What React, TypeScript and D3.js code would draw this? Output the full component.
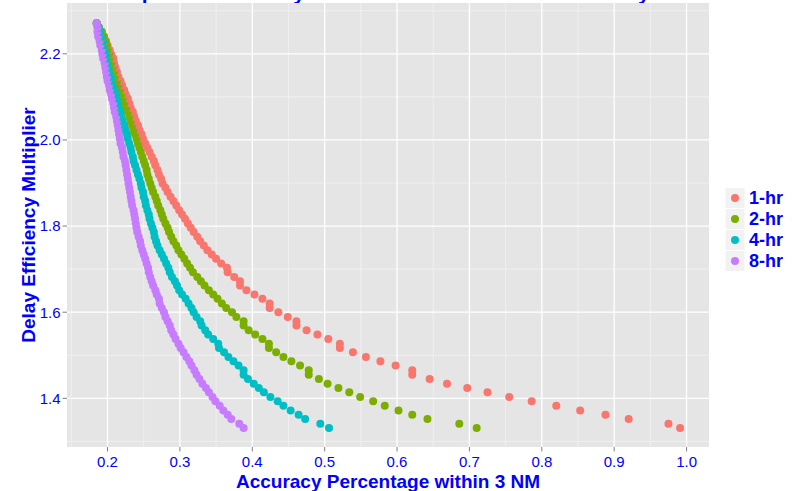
import React from 'react';
import * as d3 from 'd3';

// shared y levels (bottom to top)
const yLevels = [
  1.331, 1.341, 1.352, 1.362, 1.372, 1.383, 1.393, 1.403, 1.414, 1.424,
  1.434, 1.445, 1.455, 1.465, 1.476, 1.486, 1.496, 1.507, 1.517, 1.527,
  1.538, 1.548, 1.558, 1.569, 1.579, 1.589, 1.6, 1.61, 1.62, 1.631,
  1.641, 1.651, 1.662, 1.672, 1.682, 1.693, 1.703, 1.713, 1.724, 1.734,
  1.744, 1.755, 1.765, 1.775, 1.786, 1.796, 1.806, 1.817, 1.827, 1.837,
  1.848, 1.858, 1.868, 1.879, 1.889, 1.899, 1.91, 1.92, 1.93, 1.941,
  1.951, 1.961, 1.972, 1.982, 1.992, 2.003, 2.013, 2.023, 2.034, 2.044,
  2.054, 2.065, 2.075, 2.085, 2.096, 2.106, 2.116, 2.127, 2.137, 2.147,
  2.158, 2.168, 2.178, 2.189, 2.199, 2.209, 2.22, 2.23, 2.24, 2.251,
  2.261, 2.271,
];

// accuracy values for each horizon, same order as yLevels
const hr1 = [
  0.991, 0.975, 0.92, 0.888, 0.853, 0.82, 0.786, 0.755, 0.725, 0.697,
  0.669, 0.645, 0.621, 0.621, 0.598, 0.577, 0.557, 0.539, 0.521, 0.521,
  0.505, 0.49, 0.475, 0.461, 0.461, 0.449, 0.436, 0.424, 0.424, 0.414,
  0.403, 0.392, 0.383, 0.383, 0.375, 0.366, 0.365, 0.357, 0.35, 0.344,
  0.338, 0.333, 0.328, 0.324, 0.319, 0.315, 0.311, 0.307, 0.303, 0.299,
  0.295, 0.291, 0.287, 0.283, 0.28, 0.276, 0.274, 0.271, 0.269, 0.266,
  0.264, 0.261, 0.258, 0.255, 0.252, 0.249, 0.247, 0.244, 0.242, 0.239,
  0.237, 0.235, 0.232, 0.23, 0.228, 0.225, 0.223, 0.22, 0.218, 0.215,
  0.213, 0.211, 0.209, 0.208, 0.205, 0.203, 0.2, 0.198, 0.195, 0.192,
  0.188, 0.185,
];
const hr2 = [
  0.71, 0.686, 0.642, 0.621, 0.602, 0.583, 0.567, 0.549, 0.534, 0.519,
  0.504, 0.492, 0.478, 0.478, 0.466, 0.454, 0.443, 0.433, 0.423, 0.423,
  0.414, 0.404, 0.395, 0.388, 0.388, 0.378, 0.372, 0.364, 0.358, 0.352,
  0.346, 0.34, 0.334, 0.329, 0.324, 0.318, 0.314, 0.31, 0.306, 0.302,
  0.298, 0.295, 0.291, 0.288, 0.285, 0.283, 0.28, 0.277, 0.275, 0.273,
  0.27, 0.268, 0.266, 0.263, 0.261, 0.259, 0.257, 0.255, 0.254, 0.252,
  0.25, 0.248, 0.246, 0.244, 0.242, 0.24, 0.238, 0.236, 0.234, 0.232,
  0.23, 0.228, 0.226, 0.223, 0.221, 0.219, 0.217, 0.215, 0.213, 0.21,
  0.209, 0.207, 0.205, 0.203, 0.202, 0.2, 0.199, 0.197, 0.195, 0.192,
  0.188, 0.185,
];
const hr4 = [
  0.506, 0.494, 0.473, 0.464, 0.453, 0.443, 0.435, 0.425, 0.416, 0.409,
  0.402, 0.394, 0.388, 0.388, 0.381, 0.374, 0.367, 0.361, 0.354, 0.353,
  0.346, 0.339, 0.335, 0.33, 0.328, 0.323, 0.319, 0.316, 0.312, 0.308,
  0.303, 0.299, 0.296, 0.293, 0.289, 0.286, 0.284, 0.281, 0.278, 0.275,
  0.272, 0.269, 0.267, 0.265, 0.264, 0.262, 0.26, 0.258, 0.257, 0.255,
  0.253, 0.252, 0.25, 0.249, 0.247, 0.246, 0.244, 0.242, 0.24, 0.238,
  0.236, 0.235, 0.233, 0.232, 0.23, 0.228, 0.227, 0.225, 0.223, 0.221,
  0.219, 0.218, 0.217, 0.215, 0.214, 0.212, 0.211, 0.209, 0.207, 0.205,
  0.203, 0.202, 0.201, 0.199, 0.198, 0.197, 0.195, 0.194, 0.192, 0.19,
  0.188, 0.185,
];
const hr8 = [
  0.388, 0.382, 0.371, 0.366, 0.36, 0.355, 0.349, 0.345, 0.34, 0.336,
  0.331, 0.327, 0.323, 0.32, 0.316, 0.313, 0.309, 0.305, 0.301, 0.298,
  0.294, 0.291, 0.288, 0.286, 0.283, 0.28, 0.278, 0.275, 0.272, 0.271,
  0.268, 0.266, 0.263, 0.261, 0.259, 0.257, 0.256, 0.254, 0.252, 0.25,
  0.248, 0.246, 0.245, 0.243, 0.241, 0.24, 0.239, 0.238, 0.237, 0.236,
  0.234, 0.233, 0.232, 0.231, 0.23, 0.229, 0.228, 0.227, 0.226, 0.225,
  0.224, 0.222, 0.221, 0.22, 0.218, 0.217, 0.216, 0.215, 0.214, 0.213,
  0.212, 0.21, 0.209, 0.208, 0.206, 0.205, 0.203, 0.202, 0.2, 0.199,
  0.198, 0.197, 0.196, 0.194, 0.193, 0.192, 0.19, 0.189, 0.187, 0.186,
  0.186, 0.185,
];

const seriesNames = ['1-hr', '2-hr', '4-hr', '8-hr'];
const seriesColors = ['#F8766D', '#7CAE00', '#00BFC4', '#C77CFF'];

const xTicks = [0.2, 0.3, 0.4, 0.5, 0.6, 0.7, 0.8, 0.9, 1.0];
const xMinor = [0.15, 0.25, 0.35, 0.45, 0.55, 0.65, 0.75, 0.85, 0.95];
const yTicks = [1.4, 1.6, 1.8, 2.0, 2.2];
const yMinor = [1.3, 1.5, 1.7, 1.9, 2.1, 2.3];

const BLUE = '#0000FF';
const FONT = '"Liberation Sans", Arial, sans-serif';

const App = () => {
  const width = 796;
  const height = 491;
  const panel = { left: 67, right: 709, top: 3, bottom: 447 };

  const x = d3.scaleLinear().domain([0.144, 1.031]).range([panel.left, panel.right]);
  const y = d3.scaleLinear().domain([1.287, 2.318]).range([panel.bottom, panel.top]);

  const seriesX = [hr1, hr2, hr4, hr8];
  // points drawn level by level, all horizons in turn
  const points: { x: number; y: number; s: number }[] = [];
  yLevels.forEach((yv, k) => {
    seriesX.forEach((xs, s) => points.push({ x: xs[k], y: yv, s }));
  });

  const fmt = d3.format('.1f');

  return (
    <svg
      width={width}
      height={height}
      style={{ position: 'absolute', left: 0, top: 0, background: '#fff' }}
      fontFamily={FONT}
    >
      {/* title, mostly above the visible area */}
      <text x={95} y={0} fontSize={21} fontWeight="bold" fill={BLUE}>
        Comparison of Delay Reduction and Forecast Accuracy
      </text>

      {/* panel */}
      <rect
        x={panel.left}
        y={panel.top}
        width={panel.right - panel.left}
        height={panel.bottom - panel.top}
        fill="#E5E5E5"
      />
      <g stroke="#F2F2F2" strokeWidth={0.8}>
        {xMinor.map(v => (
          <line key={'xm' + v} x1={x(v)} x2={x(v)} y1={panel.top} y2={panel.bottom} />
        ))}
        {yMinor.map(v => (
          <line key={'ym' + v} x1={panel.left} x2={panel.right} y1={y(v)} y2={y(v)} />
        ))}
      </g>
      <g stroke="#FFFFFF" strokeWidth={1.3}>
        {xTicks.map(v => (
          <line key={'xg' + v} x1={x(v)} x2={x(v)} y1={panel.top} y2={panel.bottom} />
        ))}
        {yTicks.map(v => (
          <line key={'yg' + v} x1={panel.left} x2={panel.right} y1={y(v)} y2={y(v)} />
        ))}
      </g>

      {/* points */}
      <g>
        {points.map((p, i) => (
          <circle key={i} cx={x(p.x)} cy={y(p.y)} r={4} fill={seriesColors[p.s]} />
        ))}
      </g>

      {/* axes */}
      <g stroke="#7F7F7F" strokeWidth={1}>
        {xTicks.map(v => (
          <line key={'xt' + v} x1={x(v)} x2={x(v)} y1={panel.bottom} y2={panel.bottom + 4.5} />
        ))}
        {yTicks.map(v => (
          <line key={'yt' + v} x1={panel.left - 4.5} x2={panel.left} y1={y(v)} y2={y(v)} />
        ))}
      </g>
      <g fill={BLUE} fontSize={15}>
        {xTicks.map(v => (
          <text key={'xl' + v} x={x(v)} y={467} textAnchor="middle">
            {fmt(v)}
          </text>
        ))}
        {yTicks.map(v => (
          <text key={'yl' + v} x={60.5} y={y(v)} dy="0.36em" textAnchor="end">
            {fmt(v)}
          </text>
        ))}
      </g>

      <text
        x={(panel.left + panel.right) / 2}
        y={487.5}
        textAnchor="middle"
        fontSize={19}
        fontWeight="bold"
        fill={BLUE}
      >
        Accuracy Percentage within 3 NM
      </text>
      <text
        transform={`translate(35,${(panel.top + panel.bottom) / 2}) rotate(-90)`}
        textAnchor="middle"
        fontSize={19}
        fontWeight="bold"
        fill={BLUE}
      >
        Delay Efficiency Multiplier
      </text>

      {/* legend */}
      <g>
        {seriesNames.map((name, i) => {
          const cy = 198 + i * 21;
          return (
            <g key={name}>
              <rect x={725} y={cy - 10.5} width={20} height={21} fill="#F2F2F2" stroke="#fff" strokeWidth={1} />
              <circle cx={735} cy={cy} r={4} fill={seriesColors[i]} />
              <text x={749} y={cy} dy="0.36em" fontSize={18} fontWeight="bold" fill={BLUE}>
                {name}
              </text>
            </g>
          );
        })}
      </g>
    </svg>
  );
};

export default App;
